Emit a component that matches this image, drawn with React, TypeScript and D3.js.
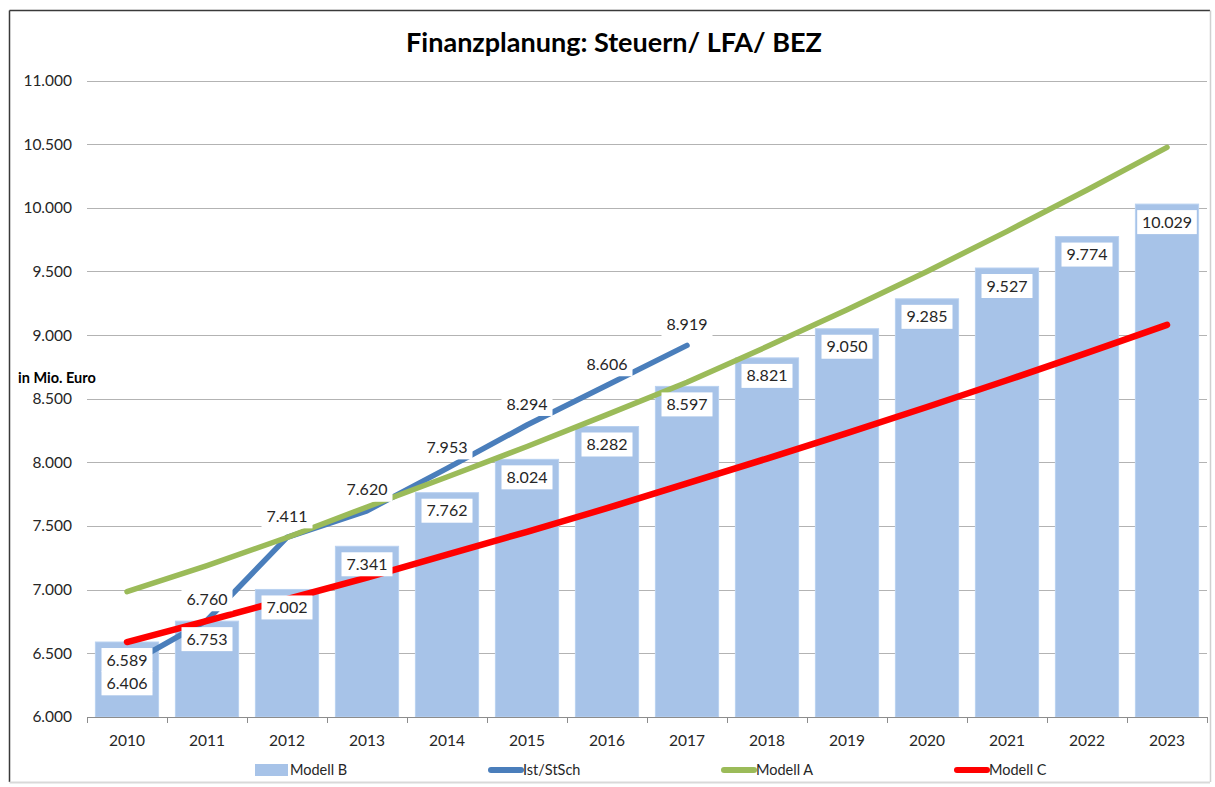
import * as d3 from "d3";

// Jahre auf der x-Achse
const years = ["2010", "2011", "2012", "2013", "2014", "2015", "2016", "2017", "2018", "2019", "2020", "2021", "2022", "2023"];

// Modell B (Säulen)
const modellB = [6589, 6753, 7002, 7341, 7762, 8024, 8282, 8597, 8821, 9050, 9285, 9527, 9774, 10029];

// Ist/StSch (nur bis 2017)
const istYears = ["2010", "2011", "2012", "2013", "2014", "2015", "2016", "2017"];
const istValues = [6406, 6760, 7411, 7620, 7953, 8294, 8606, 8919];

// Modell A und Modell C (ohne Beschriftung)
const modellA = [6985, 7190, 7410, 7650, 7885, 8125, 8375, 8630, 8910, 9200, 9500, 9815, 10140, 10475];
const modellC = [6589, 6755, 6925, 7095, 7275, 7455, 7640, 7835, 8030, 8230, 8435, 8645, 8860, 9080];

const yTicks = [6000, 6500, 7000, 7500, 8000, 8500, 9000, 9500, 10000, 10500, 11000];

const legendItems = [
  { name: "Modell B", kind: "rect", color: "#a7c3e8" },
  { name: "Ist/StSch", kind: "line", color: "#4a7ebb" },
  { name: "Modell A", kind: "line", color: "#9bbb59" },
  { name: "Modell C", kind: "line", color: "#ff0000" },
];

const de = d3.formatLocale({ decimal: ",", thousands: ".", grouping: [3], currency: ["", " €"] });
const fmt = de.format(",.0f");

const FONT = "Lato, 'Open Sans', sans-serif";

const Label = ({ x, y, text }: { x: number; y: number; text: string }) => {
  const w = text.length * 8.6 + 8;
  return (
    <g>
      <rect x={x - w / 2} y={y - 12} width={w} height={24} fill="#fff" />
      <text x={x} y={y} dy="0.35em" textAnchor="middle" fontSize={16} fill="#262626" fontFamily={FONT}>
        {text}
      </text>
    </g>
  );
};

export default function App() {
  const width = 1215;
  const height = 787;

  const x = d3.scaleBand<string>().domain(years).range([87, 1207]).paddingInner(0.21).paddingOuter(0.105);
  const y = d3.scaleLinear().domain([6000, 11000]).range([717, 80.5]);
  const cx = (yr: string) => (x(yr) as number) + x.bandwidth() / 2;

  const line = d3
    .line<[string, number]>()
    .x((d) => cx(d[0]))
    .y((d) => y(d[1]));

  const istPath = line(istYears.map((yr, i) => [yr, istValues[i]]));
  const aPath = line(years.map((yr, i) => [yr, modellA[i]]));
  const cPath = line(years.map((yr, i) => [yr, modellC[i]]));

  const step = x.step();

  return (
    <div style={{ position: "absolute", left: 0, top: 0 }}>
      <svg width={width} height={height} style={{ display: "block", background: "#fff" }}>
        {/* Rahmen */}
        <line x1={9.5} y1={10.5} x2={1210} y2={10.5} stroke="#3a3a3a" strokeWidth={1.5} />
        <line x1={9.5} y1={10.5} x2={9.5} y2={782} stroke="#3a3a3a" strokeWidth={1.5} />
        <line x1={1210.5} y1={10.5} x2={1210.5} y2={782} stroke="#d0d0d0" strokeWidth={1.5} />
        <line x1={9.5} y1={782.5} x2={1210} y2={782.5} stroke="#d9d9d9" strokeWidth={2} />

        <text x={614} y={52} textAnchor="middle" fontSize={27} fontWeight="bold" fill="#000" fontFamily={FONT}>
          Finanzplanung: Steuern/ LFA/ BEZ
        </text>

        {/* Gitterlinien */}
        {yTicks.map((t) => (
          <g key={t}>
            {t > 6000 && <line x1={87} x2={1207} y1={Math.round(y(t)) + 0.5} y2={Math.round(y(t)) + 0.5} stroke="#b3b3b3" strokeWidth={1} />}
            <text x={72} y={y(t)} dy="0.35em" textAnchor="end" fontSize={15.5} fill="#262626" fontFamily={FONT}>
              {fmt(t)}
            </text>
          </g>
        ))}

        <text x={18} y={383} fontSize={14.5} fontWeight="bold" fill="#000" fontFamily={FONT}>
          in Mio. Euro
        </text>

        {/* Säulen */}
        {years.map((yr, i) => (
          <rect
            key={yr}
            x={x(yr)}
            y={y(modellB[i])}
            width={x.bandwidth()}
            height={y(6000) - y(modellB[i])}
            fill="#a7c3e8"
            stroke="#b9d1f0"
            strokeWidth={1}
          />
        ))}

        {/* x-Achse */}
        <line x1={87} x2={1207} y1={717.5} y2={717.5} stroke="#8c8c8c" strokeWidth={1} />
        {d3.range(years.length + 1).map((i) => (
          <line key={i} x1={87.5 + i * step} x2={87.5 + i * step} y1={717} y2={723} stroke="#8c8c8c" strokeWidth={1} />
        ))}
        {years.map((yr) => (
          <text key={yr} x={cx(yr)} y={741} dy="0.35em" textAnchor="middle" fontSize={15.5} fill="#262626" fontFamily={FONT}>
            {yr}
          </text>
        ))}

        {/* Linien */}
        <path d={istPath ?? ""} fill="none" stroke="#4a7ebb" strokeWidth={5.5} strokeLinecap="round" strokeLinejoin="round" />
        <path d={aPath ?? ""} fill="none" stroke="#9bbb59" strokeWidth={5.5} strokeLinecap="round" strokeLinejoin="round" />
        <path d={cPath ?? ""} fill="none" stroke="#ff0000" strokeWidth={6.5} strokeLinecap="round" strokeLinejoin="round" />

        {/* Beschriftungen Säulen */}
        {years.map((yr, i) => (
          <Label key={yr} x={cx(yr)} y={y(modellB[i]) + 18} text={fmt(modellB[i])} />
        ))}

        {/* Beschriftungen Ist/StSch */}
        {istYears.map((yr, i) => (
          <Label key={yr} x={cx(yr)} y={i === 0 ? y(istValues[i]) + 18 : y(istValues[i]) - 21} text={fmt(istValues[i])} />
        ))}

        {/* Legende */}
        {legendItems.map((item, i) => {
          const lx = 255 + i * 233;
          return (
            <g key={item.name}>
              {item.kind === "rect" ? (
                <rect x={lx} y={764} width={33} height={12} fill={item.color} />
              ) : (
                <line x1={lx + 3} x2={lx + 33} y1={770} y2={770} stroke={item.color} strokeWidth={6} strokeLinecap="round" />
              )}
              <text x={lx + 35} y={770} dy="0.35em" fontSize={14.5} fill="#262626" fontFamily={FONT}>
                {item.name}
              </text>
            </g>
          );
        })}
      </svg>
    </div>
  );
}
